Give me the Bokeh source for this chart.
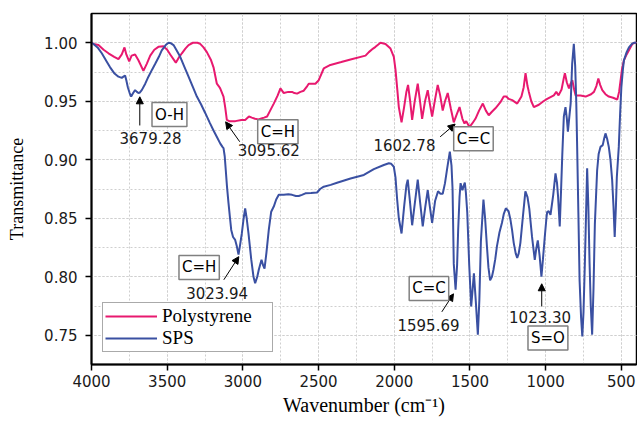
from bokeh.plotting import figure
from bokeh.models import (Range1d, SingleIntervalTicker, NumeralTickFormatter, Label,
                          Arrow, NormalHead, Legend, LegendItem, ColumnDataSource)
from bokeh.embed import file_html
from bokeh.resources import INLINE

# ---------------- data ----------------
ps_wavenumber = [4000, 3987, 3954, 3920, 3888, 3850, 3822, 3800, 3782, 3770, 3751, 3735, 3712, 3690,
                 3657, 3635, 3612, 3585, 3558, 3525, 3500, 3480, 3443, 3420, 3403, 3380, 3359, 3330,
                 3300, 3282, 3260, 3238, 3210, 3194, 3172, 3160, 3150, 3128, 3117, 3106, 3090, 3050,
                 3010, 2985, 2960, 2941, 2920, 2897, 2884, 2860, 2840, 2820, 2796, 2770, 2752, 2730,
                 2700, 2675, 2660, 2642, 2620, 2598, 2575, 2565, 2521, 2499, 2466, 2422, 2350, 2289,
                 2190, 2168, 2140, 2124, 2091, 2058, 2025, 2003, 1992, 1980, 1970, 1952, 1935, 1920,
                 1909, 1895, 1882, 1865, 1845, 1830, 1816, 1797, 1779, 1765, 1750, 1730, 1713, 1697,
                 1680, 1665, 1647, 1627, 1607, 1590, 1569, 1550, 1536, 1525, 1503, 1485, 1464, 1440,
                 1415, 1395, 1376, 1355, 1332, 1300, 1277, 1260, 1244, 1221, 1188, 1160, 1145, 1133,
                 1120, 1111, 1095, 1078, 1045, 1015, 990, 946, 930, 915, 895, 880, 873, 860, 846, 835,
                 824, 812, 802, 770, 736, 700, 681, 665, 652, 640, 626, 605, 583, 555, 527, 515, 505,
                 495, 483, 465, 450, 428, 410, 400]
ps_transmittance = [1.000, 0.999, 0.998, 0.994, 0.991, 0.988, 0.986, 0.990, 0.996, 0.990, 0.984, 0.989,
                    0.990, 0.985, 0.976, 0.982, 0.989, 0.994, 0.9965, 0.997, 0.994, 0.990, 0.983, 0.988,
                    0.991, 0.995, 0.998, 1.000, 1.000, 0.999, 0.996, 0.992, 0.985, 0.979, 0.965, 0.963,
                    0.961, 0.954, 0.945, 0.934, 0.933, 0.933, 0.934, 0.934, 0.937, 0.936, 0.935, 0.9345,
                    0.935, 0.936, 0.937, 0.942, 0.948, 0.955, 0.961, 0.957, 0.958, 0.958, 0.957, 0.9565,
                    0.958, 0.959, 0.963, 0.965, 0.965, 0.968, 0.978, 0.981, 0.9835, 0.9857, 0.989, 0.992,
                    0.995, 0.9965, 1.000, 0.999, 0.995, 0.988, 0.977, 0.960, 0.945, 0.932, 0.945, 0.958,
                    0.964, 0.950, 0.934, 0.950, 0.965, 0.950, 0.935, 0.950, 0.9595, 0.948, 0.937, 0.952,
                    0.964, 0.955, 0.942, 0.950, 0.957, 0.944, 0.932, 0.938, 0.945, 0.935, 0.931, 0.933,
                    0.928, 0.931, 0.935, 0.942, 0.948, 0.942, 0.938, 0.941, 0.944, 0.949, 0.954, 0.954,
                    0.952, 0.951, 0.948, 0.954, 0.962, 0.974, 0.963, 0.958, 0.950, 0.945, 0.947, 0.950,
                    0.952, 0.955, 0.958, 0.955, 0.960, 0.970, 0.974, 0.966, 0.961, 0.965, 0.968, 0.960,
                    0.955, 0.955, 0.954, 0.956, 0.958, 0.963, 0.9695, 0.964, 0.9595, 0.956, 0.954, 0.953,
                    0.9515, 0.958, 0.968, 0.978, 0.985, 0.990, 0.9935, 0.999, 1.000, 1.000]

sps_wavenumber = [4000, 3987, 3960, 3932, 3900, 3877, 3850, 3822, 3800, 3789, 3778, 3770, 3760, 3748,
                  3738, 3725, 3712, 3700, 3690, 3680, 3668, 3645, 3624, 3600, 3579, 3555, 3536, 3510,
                  3491, 3475, 3458, 3440, 3414, 3385, 3359, 3330, 3304, 3275, 3249, 3220, 3194, 3170,
                  3150, 3135, 3128, 3120, 3113, 3105, 3095, 3085, 3077, 3065, 3051, 3040, 3029, 3020,
                  3007, 2995, 2985, 2975, 2963, 2945, 2930, 2919, 2905, 2895, 2877, 2867, 2857, 2845,
                  2829, 2813, 2796, 2780, 2763, 2730, 2700, 2675, 2650, 2631, 2610, 2587, 2550, 2510,
                  2490, 2466, 2420, 2378, 2289, 2201, 2135, 2069, 2036, 2020, 2003, 1992, 1981, 1970,
                  1952, 1935, 1920, 1911, 1897, 1882, 1865, 1845, 1828, 1812, 1795, 1779, 1765, 1750,
                  1730, 1711, 1695, 1680, 1665, 1650, 1633, 1622, 1615, 1607, 1595, 1585, 1578, 1569,
                  1562, 1550, 1541, 1534, 1527, 1518, 1505, 1492, 1482, 1474, 1462, 1448, 1438, 1428,
                  1411, 1400, 1388, 1378, 1367, 1355, 1345, 1333, 1322, 1305, 1289, 1276, 1263, 1245,
                  1233, 1222, 1211, 1198, 1188, 1178, 1167, 1150, 1134, 1120, 1108, 1090, 1072, 1062,
                  1052, 1040, 1028, 1018, 1006, 995, 990, 980, 968, 950, 935, 925, 918, 907, 898, 890,
                  880, 869, 860, 853, 845, 835, 825, 814, 805, 798, 792, 784, 776, 766, 758, 750, 741,
                  733, 726, 718, 710, 702, 693, 684, 675, 660, 650, 638, 623, 614, 605, 594, 583, 572,
                  561, 552, 544, 536, 530, 517, 508, 500, 490, 483, 465, 450, 430, 417, 400]
sps_transmittance = [1.000, 0.999, 0.996, 0.991, 0.984, 0.979, 0.974, 0.971, 0.970, 0.971, 0.972, 0.968,
                     0.962, 0.957, 0.954, 0.957, 0.9595, 0.958, 0.957, 0.9575, 0.9595, 0.965, 0.971,
                     0.977, 0.982, 0.988, 0.9935, 0.998, 1.000, 0.9995, 0.998, 0.994, 0.988, 0.979,
                     0.971, 0.962, 0.954, 0.947, 0.940, 0.932, 0.925, 0.919, 0.914, 0.911, 0.910, 0.903,
                     0.891, 0.877, 0.863, 0.850, 0.840, 0.834, 0.8315, 0.826, 0.819, 0.826, 0.837,
                     0.850, 0.8585, 0.850, 0.837, 0.815, 0.800, 0.7945, 0.800, 0.806, 0.8145, 0.810,
                     0.807, 0.820, 0.840, 0.8556, 0.860, 0.866, 0.870, 0.870, 0.8705, 0.870, 0.869,
                     0.869, 0.870, 0.8713, 0.8715, 0.872, 0.875, 0.877, 0.8785, 0.8804, 0.884, 0.887,
                     0.892, 0.8955, 0.897, 0.8965, 0.894, 0.885, 0.866, 0.850, 0.837, 0.860, 0.878,
                     0.883, 0.865, 0.844, 0.862, 0.883, 0.862, 0.843, 0.860, 0.874, 0.860, 0.846, 0.865,
                     0.873, 0.871, 0.871, 0.880, 0.893, 0.907, 0.895, 0.875, 0.811, 0.789, 0.810, 0.840,
                     0.868, 0.880, 0.874, 0.878, 0.8805, 0.872, 0.855, 0.810, 0.7746, 0.790, 0.803,
                     0.780, 0.7505, 0.780, 0.830, 0.866, 0.850, 0.826, 0.808, 0.797, 0.800, 0.806, 0.815,
                     0.826, 0.838, 0.846, 0.854, 0.8585, 0.856, 0.849, 0.840, 0.829, 0.820, 0.816, 0.820,
                     0.829, 0.852, 0.873, 0.868, 0.858, 0.834, 0.8145, 0.824, 0.831, 0.818, 0.800, 0.815,
                     0.834, 0.850, 0.8555, 0.856, 0.853, 0.870, 0.8884, 0.880, 0.8685, 0.843, 0.875,
                     0.905, 0.937, 0.945, 0.935, 0.924, 0.935, 0.948, 0.982, 0.999, 0.980, 0.950, 0.911,
                     0.855, 0.797, 0.765, 0.749, 0.770, 0.812, 0.855, 0.8927, 0.860, 0.8116, 0.775,
                     0.7505, 0.790, 0.845, 0.891, 0.905, 0.911, 0.9125, 0.918, 0.9225, 0.918, 0.911,
                     0.900, 0.883, 0.860, 0.834, 0.860, 0.885, 0.911, 0.940, 0.962, 0.977, 0.985, 0.992,
                     0.996, 0.999, 1.000, 1.000]

x_ticks = [4000, 3500, 3000, 2500, 2000, 1500, 1000, 500]
y_ticks = [0.75, 0.80, 0.85, 0.90, 0.95, 1.00]

# band annotations: boxed group name and peak value
group_text = ["O-H", "C=H", "C=C", "C=H", "C=C", "S=O"]
group_x = [3485, 2769, 1477, 3289, 1771, 985]
group_y = [0.9386, 0.924, 0.918, 0.808, 0.790, 0.7476]
peak_text = ["3679.28", "3095.62", "1602.78", "3023.94", "1595.69", "1023.30"]
peak_x = [3610, 2829, 1933, 3170, 1774, 1037]
peak_y = [0.919, 0.908, 0.9125, 0.7865, 0.759, 0.7655]
arrow_x0 = [3681, 3021, 1697, 3126, 1686, 1026]
arrow_y0 = [0.9293, 0.9154, 0.9196, 0.7974, 0.770, 0.7746]
arrow_x1 = [3681, 3114, 1598, 3027, 1609, 1026]
arrow_y1 = [0.9538, 0.9324, 0.9305, 0.8172, 0.7854, 0.794]

PINK = "#E8196F"
BLUE = "#3A50A2"
SANS = "DejaVu Sans"
SERIF = "Liberation Serif"

p = figure(width=637, height=421, output_backend="svg", toolbar_location=None,
           x_range=Range1d(4000, 400), y_range=Range1d(0.725, 1.025),
           min_border_left=91, min_border_right=1, min_border_top=13, min_border_bottom=57)
p.background_fill_color = "white"
p.border_fill_color = "white"
p.outline_line_color = "black"
p.outline_line_width = 1.5

xt = SingleIntervalTicker(interval=500, num_minor_ticks=2)
yt = SingleIntervalTicker(interval=0.05, num_minor_ticks=2)
p.xaxis.ticker = xt
p.yaxis.ticker = yt
p.xgrid.ticker = xt
p.ygrid.ticker = yt
for g in (p.xgrid, p.ygrid):
    g.grid_line_color = "#cfcfcf"
    g.grid_line_dash = "2 2"
    g.grid_line_width = 1
    g.minor_grid_line_color = "#cfcfcf"
    g.minor_grid_line_dash = "2 2"
    g.minor_grid_line_width = 1

p.yaxis.formatter = NumeralTickFormatter(format="0.00")
for ax in (p.xaxis, p.yaxis):
    ax.axis_line_width = 2
    ax.axis_line_color = "black"
    ax.major_tick_line_width = 1.5
    ax.major_tick_out = 6
    ax.major_tick_in = 0
    ax.minor_tick_line_color = None
    ax.major_label_text_font = SANS
    ax.major_label_text_font_size = "15px"
    ax.major_label_text_color = "#1a1a1a"
    ax.axis_label_text_font = SERIF
    ax.axis_label_text_font_style = "normal"
    ax.axis_label_text_color = "black"
p.xaxis.axis_label_text_font_size = "20px"
p.yaxis.axis_label_text_font_size = "18px"
p.xaxis.major_label_standoff = 4
p.yaxis.major_label_standoff = 8
p.xaxis.axis_label = "Wavenumber (cm⁻¹)"
p.yaxis.axis_label = "Transmittance"
p.xaxis.axis_label_standoff = 4
p.yaxis.axis_label_standoff = 14

r1 = p.line(ps_wavenumber, ps_transmittance, line_color=PINK, line_width=2)
r2 = p.line(sps_wavenumber, sps_transmittance, line_color=BLUE, line_width=2)

arrows = ColumnDataSource(dict(x0=arrow_x0, y0=arrow_y0, x1=arrow_x1, y1=arrow_y1))
p.add_layout(Arrow(source=arrows, x_start="x0", y_start="y0", x_end="x1", y_end="y1",
                   line_color="black", line_width=1,
                   end=NormalHead(size=7, fill_color="black", line_color="black")))

for t, x, y in zip(group_text, group_x, group_y):
    p.add_layout(Label(x=x, y=y, text=t, text_align="center", text_baseline="middle",
                       text_font=SANS, text_font_size="15px", text_color="black",
                       border_line_color="#808080", border_line_width=1.5,
                       background_fill_color="white", padding=3))
for t, x, y in zip(peak_text, peak_x, peak_y):
    p.add_layout(Label(x=x, y=y, text=t, text_align="center", text_baseline="middle",
                       text_font=SANS, text_font_size="15px", text_color="#1a1a1a"))

legend = Legend(items=[LegendItem(label="Polystyrene", renderers=[r1]),
                       LegendItem(label="SPS", renderers=[r2])],
                location=(11, 12), border_line_color="#555555", border_line_width=1,
                background_fill_color="white", background_fill_alpha=1,
                label_text_font=SERIF, label_text_font_size="19px", label_text_color="black",
                glyph_width=52, glyph_height=18, label_height=18, label_width=108,
                label_standoff=5, spacing=0, padding=2, margin=0)
p.add_layout(legend)

open("out.html", "w").write(file_html(p, INLINE))
